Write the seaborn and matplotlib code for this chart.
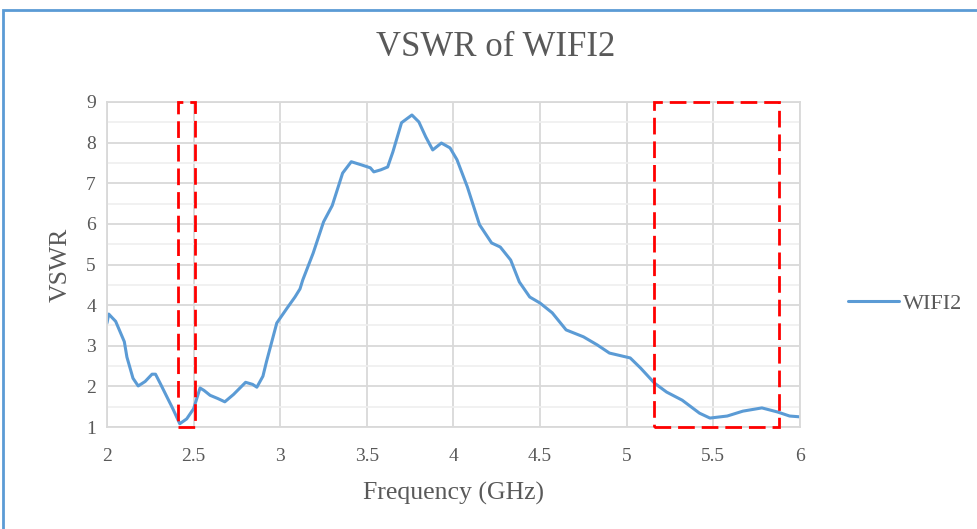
import numpy as np
import pandas as pd
import seaborn as sns
import matplotlib.pyplot as plt
from matplotlib.patches import Rectangle

# values
freq = [2.0, 2.01, 2.05, 2.1, 2.115, 2.15, 2.18, 2.22, 2.26, 2.28, 2.31, 2.346, 2.38,
        2.42, 2.46, 2.5, 2.537, 2.56, 2.595, 2.64, 2.68, 2.73, 2.8, 2.84, 2.865,
        2.9, 2.92, 2.98, 3.04, 3.085, 3.114, 3.13, 3.19, 3.25, 3.3, 3.36, 3.41,
        3.47, 3.52, 3.54, 3.58, 3.62, 3.65, 3.7, 3.76, 3.8, 3.84, 3.88, 3.93,
        3.98, 4.02, 4.08, 4.15, 4.22, 4.27, 4.33, 4.38, 4.44, 4.5, 4.57, 4.65,
        4.75, 4.83, 4.9, 5.02, 5.08, 5.16, 5.23, 5.32, 5.42, 5.48, 5.58, 5.67,
        5.78, 5.87, 5.94, 6.0]
vswr = [3.56, 3.78, 3.6, 3.1, 2.72, 2.2, 2.01, 2.12, 2.3, 2.3, 2.05, 1.74, 1.45,
        1.08, 1.2, 1.45, 1.96, 1.9, 1.78, 1.7, 1.62, 1.8, 2.1, 2.05, 1.98,
        2.25, 2.6, 3.56, 3.93, 4.2, 4.4, 4.62, 5.28, 6.05, 6.45, 7.25, 7.53,
        7.45, 7.38, 7.28, 7.33, 7.4, 7.77, 8.49, 8.68, 8.51, 8.14, 7.82, 7.99,
        7.87, 7.58, 6.91, 5.98, 5.53, 5.43, 5.11, 4.57, 4.2, 4.05, 3.81, 3.39,
        3.22, 3.02, 2.82, 2.7, 2.45, 2.08, 1.86, 1.66, 1.34, 1.22, 1.27, 1.39,
        1.47, 1.37, 1.27, 1.25]
series_name = "WIFI2"
bands = [(2.41, 2.51), (5.16, 5.88)]
x_ticks = [2, 2.5, 3, 3.5, 4, 4.5, 5, 5.5, 6]

df = pd.DataFrame({"Frequency (GHz)": freq, "VSWR": vswr, "series": series_name})

sns.set_style("white")
plt.rcParams['font.family'] = ['Liberation Serif', 'DejaVu Serif']

fig = plt.figure(figsize=(9.77, 5.29), dpi=100)
ax = fig.add_axes([107/977, 1 - 427/529, 693/977, 325/529])

sns.lineplot(data=df, x="Frequency (GHz)", y="VSWR", hue="series",
             palette=["#5B9BD5"], linewidth=2.2, ax=ax)

ax.set_xlim(2, 6)
ax.set_ylim(1, 9)
ax.set_xticks(x_ticks)
ax.set_xticklabels([f"{t:g}" for t in x_ticks])
ax.set_yticks(range(1, 10))
ax.set_yticks(np.arange(1.5, 9, 1), minor=True)
ax.grid(True, which="major", color="#d9d9d9", linewidth=1.3)
ax.grid(True, which="minor", axis="y", color="#efefef", linewidth=1.2)
ax.tick_params(which="both", length=0, labelsize=14, labelcolor="#595959")
ax.tick_params(axis="x", pad=15)
ax.tick_params(axis="y", pad=8)
for s in ax.spines.values():
    s.set_color("#d9d9d9")
    s.set_linewidth(1.3)

for lo, hi in bands:
    ax.add_patch(Rectangle((lo, 1), hi - lo, 8, fill=False, edgecolor="red",
                           linewidth=2, linestyle=(0, (6, 2.5)), clip_on=False, zorder=5))

fig.text(496/977, 1 - 48/529, "VSWR of WIFI2", fontsize=25, color="#595959",
         ha="center", va="center")
ax.set_xlabel("Frequency (GHz)", fontsize=18.5, color="#595959", labelpad=12)
ax.set_ylabel("VSWR", fontsize=18.5, color="#595959", labelpad=10)

leg = ax.legend(loc="center left", bbox_to_anchor=(1.04, 0.38), frameon=False,
                fontsize=16, handlelength=2.3, handletextpad=0.2)
for t in leg.get_texts():
    t.set_color("#595959")

# outer border of the chart area
fig.add_artist(Rectangle((3/977, -0.1), 1.2, 1 - 10/529 + 0.1, transform=fig.transFigure,
                         fill=False, edgecolor="#5B9BD5", linewidth=2))

fig.savefig("out.png", dpi=100)
